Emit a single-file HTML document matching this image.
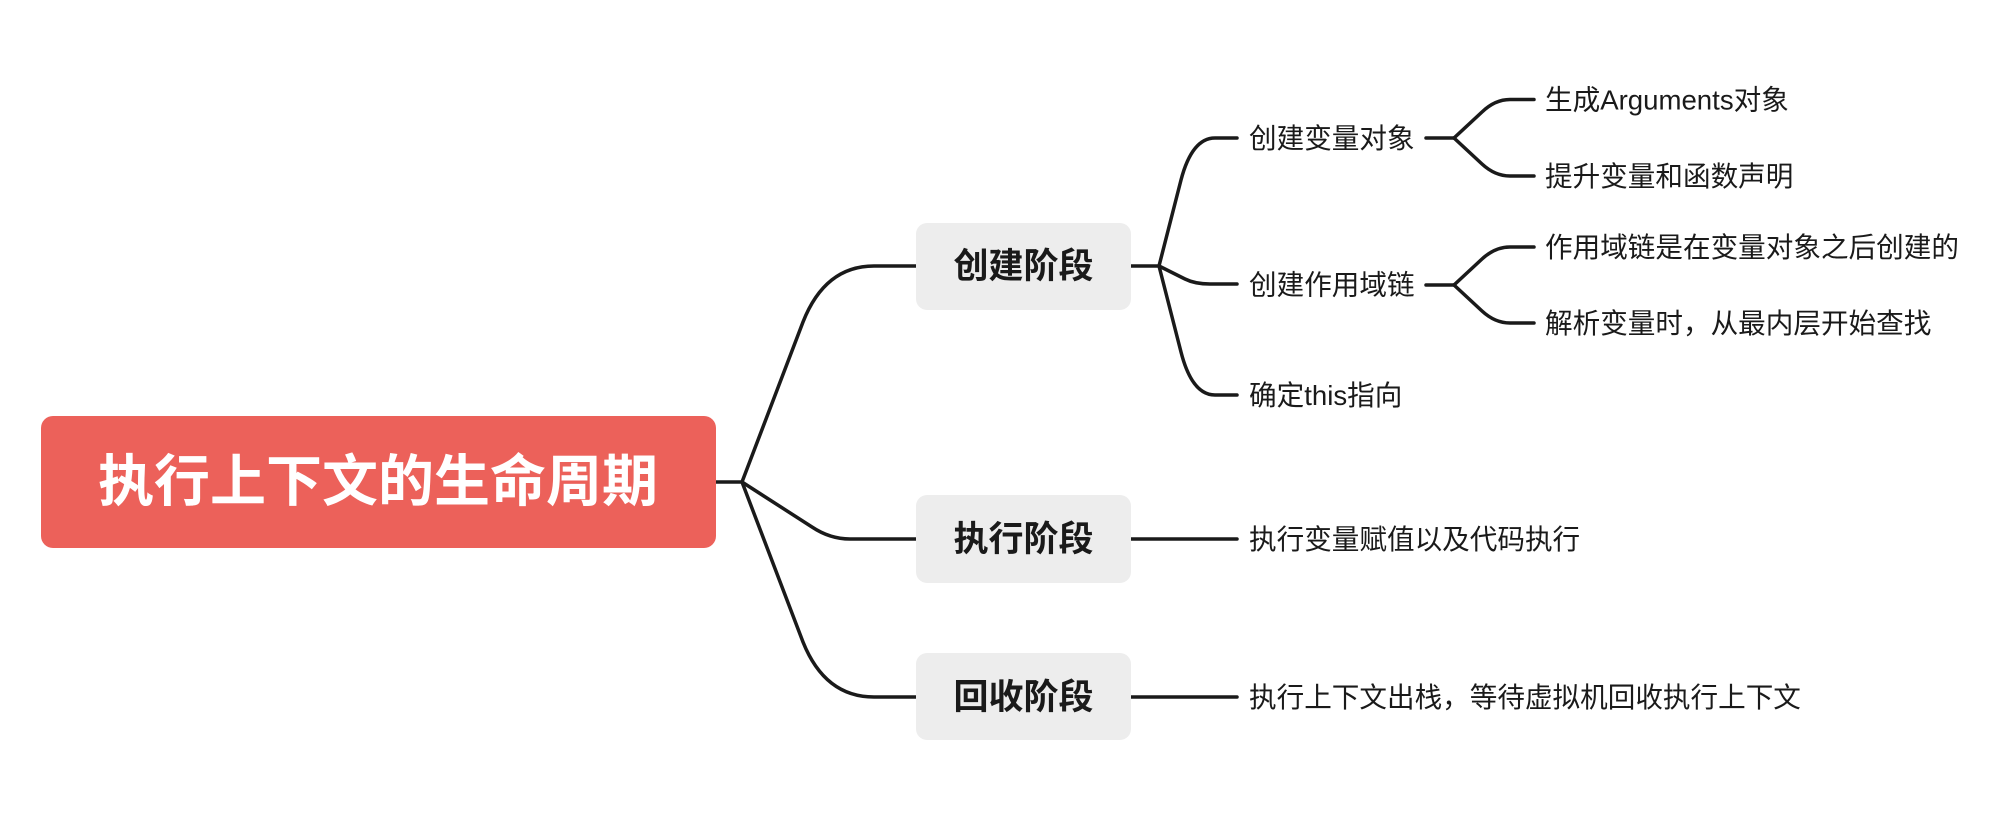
<!DOCTYPE html>
<html><head><meta charset="utf-8"><style>
html,body{margin:0;padding:0;background:#fff;}
svg{display:block;}
text{font-family:"Liberation Sans","Noto Sans CJK SC",sans-serif;}
</style></head><body>
<svg width="2000" height="822" viewBox="0 0 2000 822" xmlns="http://www.w3.org/2000/svg">
<rect x="0" y="0" width="2000" height="822" fill="#fff"/>
<g fill="none" stroke="#1a1a1a" stroke-width="3.5" stroke-linecap="round" stroke-linejoin="round">
<path d="M716 482 L742 482"/>
<path d="M742 482 L803 322 Q825 266 874 266 L916 266"/>
<path d="M742 482 L812 527 Q830 539 850 539 L916 539"/>
<path d="M742 482 L803 642 Q825 697 874 697 L916 697"/>
<path d="M1131 266 L1159 266"/>
<path d="M1159 266 L1181 180 Q1192 138 1215 138 L1237 138"/>
<path d="M1159 266 L1185 279 Q1195 284 1210 284 L1237 284"/>
<path d="M1159 266 L1181 352 Q1192 395 1215 395 L1237 395"/>
<path d="M1131 539 L1237 539"/>
<path d="M1131 697 L1237 697"/>
<path d="M1426 138 L1454 138"/>
<path d="M1454 138 L1482 112 Q1495 99.5 1510 99.5 L1534 99.5"/>
<path d="M1454 138 L1482 164 Q1495 176 1510 176 L1534 176"/>
<path d="M1426 285 L1454 285"/>
<path d="M1454 285 L1482 259 Q1495 247 1510 247 L1534 247"/>
<path d="M1454 285 L1482 311 Q1495 323 1510 323 L1534 323"/>
</g>
<rect x="41" y="416" width="675" height="132" rx="12" fill="#EC615A"/>
<text x="378" y="501" font-size="56" font-weight="bold" fill="#fff" text-anchor="middle">执行上下文的生命周期</text>
<rect x="916" y="223" width="215" height="87" rx="11" fill="#EDEDED"/>
<text x="1023.5" y="278" font-size="35" font-weight="bold" fill="#1a1a1a" text-anchor="middle">创建阶段</text>
<rect x="916" y="495" width="215" height="88" rx="11" fill="#EDEDED"/>
<text x="1023.5" y="551" font-size="35" font-weight="bold" fill="#1a1a1a" text-anchor="middle">执行阶段</text>
<rect x="916" y="653" width="215" height="87" rx="11" fill="#EDEDED"/>
<text x="1023.5" y="709" font-size="35" font-weight="bold" fill="#1a1a1a" text-anchor="middle">回收阶段</text>
<g font-size="27.6" fill="#1a1a1a">
<text x="1249" y="148">创建变量对象</text>
<text x="1249" y="294.5">创建作用域链</text>
<text x="1249" y="405">确定this指向</text>
<text x="1249" y="549">执行变量赋值以及代码执行</text>
<text x="1249" y="707">执行上下文出栈，等待虚拟机回收执行上下文</text>
<text x="1545" y="109.5">生成Arguments对象</text>
<text x="1545" y="186">提升变量和函数声明</text>
<text x="1545" y="257">作用域链是在变量对象之后创建的</text>
<text x="1545" y="333">解析变量时，从最内层开始查找</text>
</g>
</svg>
</body></html>
